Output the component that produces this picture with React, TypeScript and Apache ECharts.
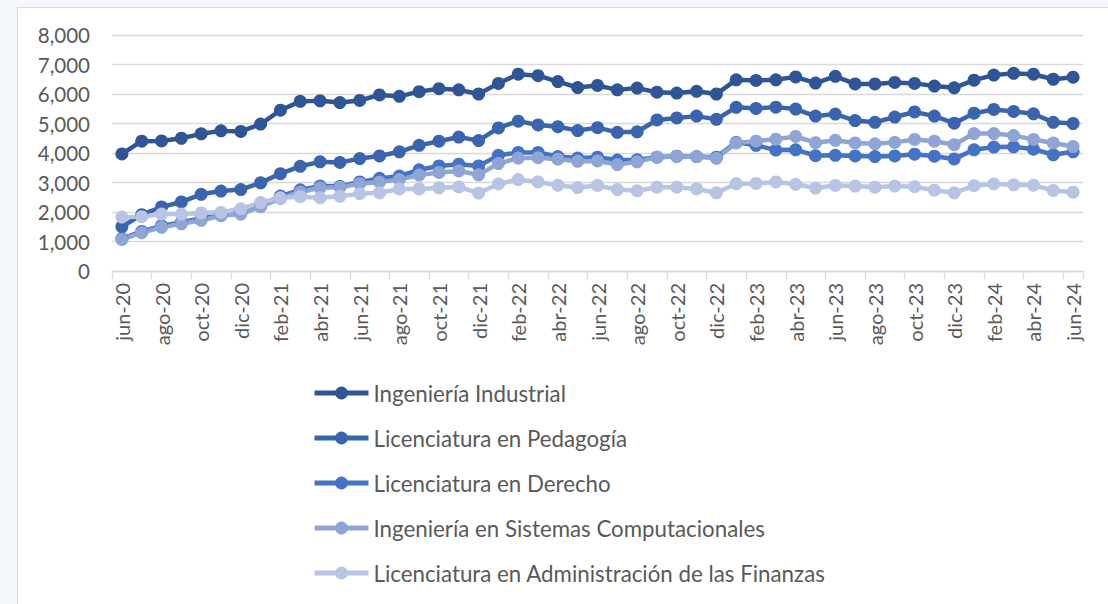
import React, { useEffect, useRef } from 'react';
import * as echarts from 'echarts';

const categories = [
  'jun-20', 'jul-20', 'ago-20', 'sep-20', 'oct-20', 'nov-20', 'dic-20',
  'ene-21', 'feb-21', 'mar-21', 'abr-21', 'may-21', 'jun-21', 'jul-21', 'ago-21', 'sep-21', 'oct-21', 'nov-21', 'dic-21',
  'ene-22', 'feb-22', 'mar-22', 'abr-22', 'may-22', 'jun-22', 'jul-22', 'ago-22', 'sep-22', 'oct-22', 'nov-22', 'dic-22',
  'ene-23', 'feb-23', 'mar-23', 'abr-23', 'may-23', 'jun-23', 'jul-23', 'ago-23', 'sep-23', 'oct-23', 'nov-23', 'dic-23',
  'ene-24', 'feb-24', 'mar-24', 'abr-24', 'may-24', 'jun-24',
];

const seriesNames = [
  'Ingeniería Industrial',
  'Licenciatura en Pedagogía',
  'Licenciatura en Derecho',
  'Ingeniería en Sistemas Computacionales',
  'Licenciatura en Administración de las Finanzas',
];

const industrial = [
  3970, 4400, 4410, 4500, 4650, 4750, 4730,
  4980, 5450, 5750, 5770, 5710, 5780, 5970, 5920, 6080, 6180, 6140, 6000,
  6360, 6670, 6620, 6420, 6220, 6290, 6140, 6200, 6060, 6030, 6090, 6000,
  6480, 6460, 6480, 6580, 6370, 6600, 6340, 6340, 6390, 6360, 6270, 6210,
  6470, 6640, 6700, 6670, 6500, 6570,
];

const pedagogia = [
  1500, 1910, 2170, 2340, 2600, 2710, 2760,
  2990, 3300, 3550, 3700, 3680, 3810, 3900, 4040, 4260, 4400, 4540, 4420,
  4850, 5080, 4950, 4890, 4760, 4860, 4700, 4720, 5120, 5190, 5250, 5140,
  5550, 5510, 5555, 5490, 5250, 5320, 5100, 5040, 5220, 5390, 5250, 5010,
  5350, 5475, 5410, 5330, 5040, 5000,
];

const derecho = [
  1100, 1340, 1530, 1650, 1780, 1920, 1990,
  2230, 2540, 2750, 2880, 2870, 3020, 3140, 3220, 3430, 3560, 3620, 3560,
  3920, 4020, 4020, 3880, 3830, 3860, 3760, 3770, 3860, 3890, 3880, 3860,
  4360, 4260, 4100, 4110, 3910, 3920, 3900, 3880, 3900, 3960, 3890, 3800,
  4110, 4200, 4210, 4130, 3940, 4040,
];

const sistemas = [
  1070, 1300, 1480, 1600, 1720, 1870, 1930,
  2180, 2460, 2680, 2820, 2840, 2960, 3020, 3100, 3250, 3340, 3390, 3260,
  3640, 3830, 3840, 3790, 3720, 3730, 3610, 3700, 3860, 3880, 3880, 3820,
  4340, 4400, 4470, 4560, 4350, 4430, 4340, 4310, 4360, 4460, 4400, 4280,
  4660, 4660, 4590, 4460, 4340, 4220,
];

const administracion = [
  1830, 1840, 1930, 1930, 1970, 1990, 2110,
  2320, 2480, 2520, 2480, 2530, 2620, 2650, 2780, 2780, 2820, 2850, 2640,
  2950, 3100, 3020, 2910, 2830, 2900, 2760, 2720, 2840, 2840, 2780, 2650,
  2960, 2970, 3020, 2940, 2810, 2900, 2880, 2840, 2880, 2860, 2740, 2650,
  2890, 2950, 2920, 2910, 2730, 2670,
];

const seriesData = [industrial, pedagogia, derecho, sistemas, administracion];
const colors = ['#2F5597', '#3A64AE', '#4472C4', '#8FA5D6', '#B7C4E4'];

const FONT = 'Lato, "Noto Sans", sans-serif';

export default function App() {
  const ref = useRef<HTMLDivElement>(null);

  useEffect(() => {
    if (!ref.current) return;
    const chart = echarts.init(ref.current, null, { renderer: 'svg' });
    chart.setOption({
      animation: false,
      textStyle: { fontFamily: FONT },
      grid: { left: 112, top: 35, width: 971, height: 236 },
      xAxis: {
        type: 'category',
        data: categories,
        boundaryGap: true,
        axisLine: { lineStyle: { color: '#D9D9D9', width: 1.3 } },
        axisTick: { show: true, interval: 1, length: 8, lineStyle: { color: '#D9D9D9', width: 1.3 } },
        axisLabel: {
          interval: 1,
          rotate: 90,
          margin: 12,
          color: '#595959',
          fontSize: 20,
          fontFamily: FONT,
        },
        splitLine: { show: false },
      },
      yAxis: {
        type: 'value',
        min: 0,
        max: 8000,
        interval: 1000,
        axisLine: { show: false },
        axisTick: { show: false },
        axisLabel: {
          margin: 22,
          color: '#595959',
          fontSize: 20.5,
          fontFamily: FONT,
          formatter: (v: number) => v.toLocaleString('en-US'),
        },
        splitLine: { lineStyle: { color: '#D9D9D9', width: 1.3 } },
      },
      legend: {
        orient: 'vertical',
        left: 312,
        top: 382,
        padding: 0,
        itemWidth: 54,
        itemHeight: 16,
        itemGap: 23,
        lineStyle: { width: 5 },
        textStyle: { color: '#595959', fontSize: 22.3, lineHeight: 22, fontFamily: FONT },
        data: seriesNames,
      },
      series: seriesNames.map((name, i) => ({
        name,
        type: 'line',
        data: seriesData[i],
        symbol: 'circle',
        symbolSize: 13,
        showAllSymbol: true,
        lineStyle: { width: 4.5, color: colors[i] },
        itemStyle: { color: colors[i] },
        emphasis: { disabled: true },
      })),
    });
    return () => chart.dispose();
  }, []);

  return (
    <div style={{ position: 'fixed', left: 0, top: 0, width: 1108, height: 604, background: '#F4F7FB' }}>
      <div
        style={{
          position: 'absolute',
          left: 17,
          top: 7,
          width: 1100,
          height: 610,
          background: '#FFFFFF',
          border: '1px solid #D9D9D9',
          boxSizing: 'border-box',
        }}
      />
      <div ref={ref} style={{ position: 'absolute', left: 0, top: 0, width: 1108, height: 604 }} />
    </div>
  );
}
